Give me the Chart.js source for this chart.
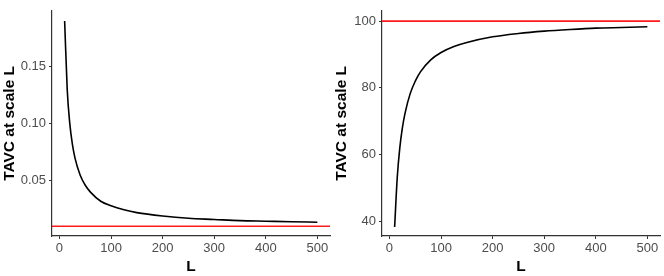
<!DOCTYPE html>
<html>
<head>
<meta charset="UTF-8">
<title>TAVC at scale L</title>
<script src="https://cdn.jsdelivr.net/npm/chart.js@4/dist/chart.umd.min.js"></script>
<style>
    body { margin: 0; background: #fff; }
    .panel { position: absolute; top: 0; width: 332px; height: 276px; }
</style>
</head>
<body>
<div class="panel" style="left:0"><canvas id="graficoEsq" width="332" height="276"></canvas></div>
<div class="panel" style="left:332px"><canvas id="graficoDir" width="332" height="276"></canvas></div>
<script>
// valores
var escalas = [10, 15, 20, 25, 30, 40, 50, 60, 80, 100, 125, 150, 200, 250, 300, 350, 400, 450, 500];
var tavcEsq = [0.19, 0.13, 0.10, 0.082, 0.070, 0.055, 0.046, 0.040, 0.032, 0.028, 0.0245, 0.022, 0.019, 0.017, 0.016, 0.015, 0.0145, 0.014, 0.0136];
var tavcDir = [38.3, 53, 62, 68, 72.3, 78.2, 82, 84.8, 88.4, 90.6, 92.4, 93.6, 95.3, 96.3, 97.0, 97.5, 97.9, 98.1, 98.3];
var refEsq = 0.01;
var refDir = 100;
var xTicks = [0, 100, 200, 300, 400, 500];
var yTicksEsq = [0.05, 0.10, 0.15];
var yTicksDir = [40, 60, 80, 100];
var xMin = -14.5, xMax = 524.5;

function pontos(xs, ys) {
    return xs.map(function(x, i) { return { x: x, y: ys[i] }; });
}

function criaGrafico(id, valores, ref, yTicks, yMin, yMax, decimais, larguraY, padDir) {
    var ctx = document.getElementById(id).getContext("2d");
    return new Chart(ctx, {
        type: "line",
        data: {
            datasets: [
                {
                    data: [{ x: xMin, y: ref }, { x: xMax, y: ref }],
                    borderColor: "#ff1a1a",
                    borderWidth: 1.6,
                    pointRadius: 0
                },
                {
                    data: pontos(escalas, valores),
                    borderColor: "#000000",
                    borderWidth: 1.6,
                    pointRadius: 0,
                    cubicInterpolationMode: "monotone"
                }
            ]
        },
        options: {
            responsive: false,
            animation: false,
            layout: { padding: { top: 3, right: padDir, left: 0, bottom: 0 } },
            plugins: { legend: { display: false }, tooltip: { enabled: false } },
            scales: {
                x: {
                    type: "linear",
                    min: xMin,
                    max: xMax,
                    afterBuildTicks: function(s) { s.ticks = xTicks.map(function(v) { return { value: v }; }); },
                    afterFit: function(s) { s.height = 40; },
                    grid: { drawOnChartArea: false, drawTicks: true, tickLength: 3, color: "#333" },
                    border: { display: true, color: "#333", width: 1.2 },
                    ticks: { color: "#4d4d4d", padding: 2, maxRotation: 0, font: { family: "Liberation Sans", size: 13 } },
                    title: { display: true, text: "L", color: "#000", padding: { top: 0, bottom: 0 }, font: { family: "Liberation Sans", size: 15.5, weight: "bold" } }
                },
                y: {
                    min: yMin,
                    max: yMax,
                    afterBuildTicks: function(s) { s.ticks = yTicks.map(function(v) { return { value: v }; }); },
                    afterFit: function(s) { s.width = larguraY; },
                    grid: { drawOnChartArea: false, drawTicks: true, tickLength: 3, color: "#333" },
                    border: { display: true, color: "#333", width: 1.2 },
                    ticks: {
                        color: "#4d4d4d", padding: 3,
                        font: { family: "Liberation Sans", size: 13 },
                        callback: function(v) { return v.toFixed(decimais); }
                    },
                    title: { display: true, text: "TAVC at scale L", color: "#000", padding: { top: 0, bottom: 2 }, font: { family: "Liberation Sans", size: 15.5, weight: "bold" } }
                }
            }
        }
    });
}

criaGrafico("graficoEsq", tavcEsq, refEsq, yTicksEsq, 0.0015, 0.199, 2, 52, 2);
criaGrafico("graficoDir", tavcDir, refDir, yTicksDir, 35.6, 103.1, 0, 50, 4);
</script>
</body>
</html>
